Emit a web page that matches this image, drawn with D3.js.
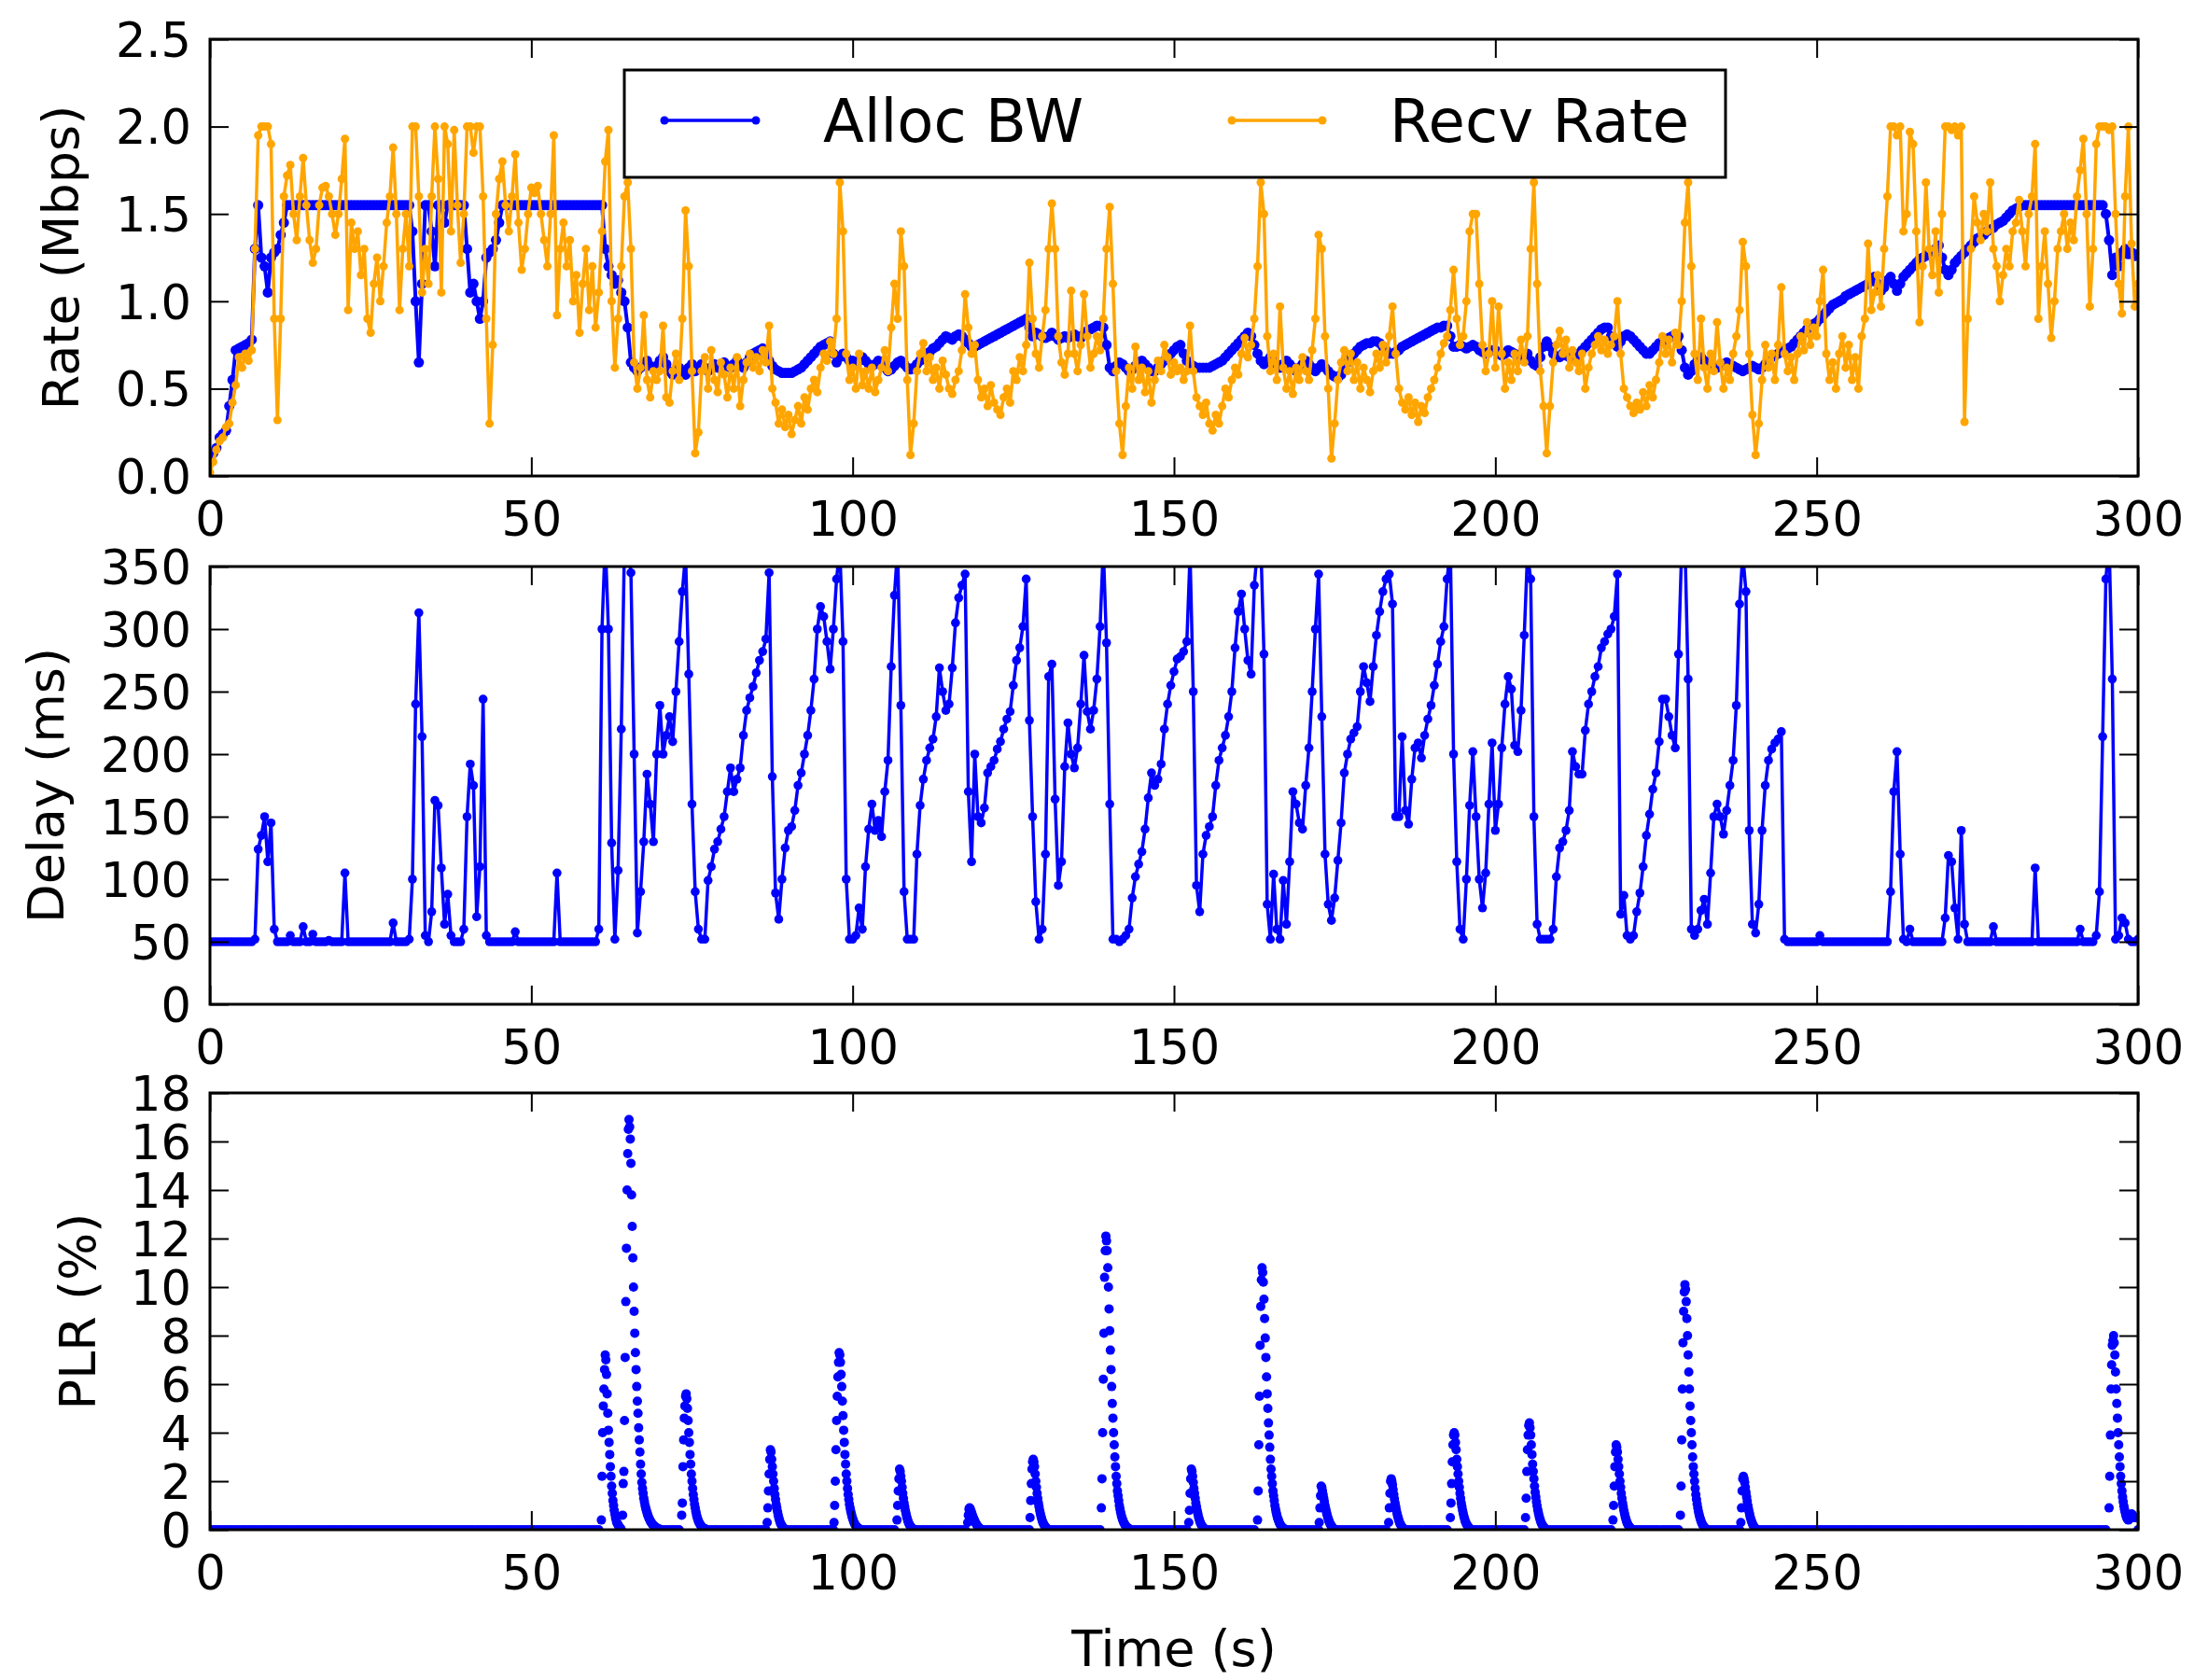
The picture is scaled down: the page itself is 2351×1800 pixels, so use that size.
<!DOCTYPE html>
<html>
<head>
<meta charset="utf-8">
<script src="https://cdn.jsdelivr.net/npm/d3@7"></script>
<style>
  html, body { margin: 0; padding: 0; background: #fff; }
  svg text { font-family: "DejaVu Sans", "Liberation Sans", sans-serif; fill: #000; }
</style>
</head>
<body>
<svg id="chart" width="2351" height="1800"></svg>
<script>
// Sample clock for the rate and delay traces (seconds between samples)
const STEP = 0.5;
// Loss-burst samples are logged more finely
const PLR_STEP = 0.1;

// Allocated bandwidth (Mbps), one value every 0.5 s from 0 to 300 s
const allocBw = [
  0.12,0.13,0.16,0.22,0.24,0.26,0.4,0.55,0.72,0.73,0.74,0.75,0.76,0.78,1.3,1.55,1.25,1.2,1.05,1.25,
  1.28,1.3,1.38,1.45,1.55,1.55,1.55,1.55,1.55,1.55,1.55,1.55,1.55,1.55,1.55,1.55,1.55,1.55,1.55,1.55,
  1.55,1.55,1.55,1.55,1.55,1.55,1.55,1.55,1.55,1.55,1.55,1.55,1.55,1.55,1.55,1.55,1.55,1.55,1.55,1.55,
  1.55,1.55,1.55,1.4,1.0,0.65,1.1,1.55,1.55,1.4,1.2,1.55,1.55,1.45,1.55,1.55,1.55,1.55,1.55,1.55,
  1.3,1.05,1.1,1.0,0.9,1.0,1.25,1.28,1.3,1.35,1.45,1.55,1.55,1.55,1.55,1.55,1.55,1.55,1.55,1.55,
  1.55,1.55,1.55,1.55,1.55,1.55,1.55,1.55,1.55,1.55,1.55,1.55,1.55,1.55,1.55,1.55,1.55,1.55,1.55,1.55,
  1.55,1.55,1.55,1.3,1.2,1.15,1.1,1.12,1.05,1.0,0.85,0.65,0.62,0.6,0.62,0.64,0.66,0.63,0.62,0.63,
  0.66,0.68,0.64,0.6,0.58,0.6,0.62,0.6,0.58,0.62,0.64,0.6,0.62,0.64,0.62,0.6,0.62,0.64,0.62,0.63,
  0.65,0.63,0.62,0.64,0.66,0.64,0.62,0.65,0.68,0.7,0.71,0.72,0.73,0.7,0.66,0.63,0.61,0.6,0.59,0.59,
  0.59,0.59,0.6,0.61,0.62,0.64,0.66,0.68,0.7,0.72,0.74,0.75,0.76,0.77,0.7,0.65,0.68,0.7,0.68,0.66,
  0.66,0.64,0.66,0.68,0.66,0.64,0.63,0.64,0.66,0.64,0.62,0.6,0.61,0.63,0.65,0.66,0.64,0.62,0.61,0.62,
  0.64,0.66,0.67,0.69,0.71,0.73,0.74,0.76,0.78,0.8,0.79,0.78,0.8,0.81,0.8,0.78,0.76,0.74,0.74,0.75,
  0.76,0.77,0.78,0.79,0.8,0.81,0.82,0.83,0.84,0.85,0.86,0.87,0.88,0.89,0.9,0.85,0.8,0.82,0.81,0.8,
  0.79,0.8,0.82,0.8,0.78,0.79,0.8,0.79,0.8,0.81,0.8,0.79,0.81,0.83,0.84,0.85,0.86,0.86,0.85,0.75,
  0.62,0.6,0.63,0.65,0.64,0.62,0.6,0.61,0.63,0.65,0.66,0.64,0.62,0.6,0.6,0.62,0.64,0.66,0.68,0.7,
  0.72,0.74,0.75,0.7,0.66,0.64,0.63,0.62,0.62,0.62,0.62,0.62,0.63,0.64,0.65,0.66,0.68,0.7,0.72,0.74,
  0.76,0.78,0.8,0.82,0.8,0.75,0.7,0.66,0.64,0.66,0.68,0.66,0.64,0.62,0.64,0.66,0.64,0.62,0.6,0.62,
  0.64,0.66,0.64,0.62,0.6,0.62,0.64,0.62,0.6,0.58,0.57,0.56,0.58,0.62,0.65,0.68,0.7,0.72,0.74,0.75,
  0.76,0.76,0.77,0.77,0.76,0.74,0.72,0.7,0.7,0.71,0.72,0.74,0.75,0.76,0.77,0.78,0.79,0.8,0.81,0.82,
  0.83,0.84,0.85,0.85,0.86,0.86,0.8,0.74,0.74,0.75,0.74,0.73,0.74,0.75,0.74,0.72,0.71,0.7,0.71,0.72,
  0.72,0.7,0.69,0.7,0.72,0.71,0.7,0.68,0.67,0.68,0.7,0.66,0.64,0.63,0.68,0.74,0.77,0.74,0.7,0.68,
  0.68,0.7,0.69,0.68,0.67,0.68,0.7,0.72,0.74,0.76,0.78,0.8,0.82,0.84,0.85,0.85,0.8,0.76,0.74,0.77,
  0.8,0.81,0.8,0.78,0.76,0.74,0.72,0.7,0.7,0.72,0.74,0.76,0.77,0.78,0.79,0.8,0.81,0.8,0.72,0.62,
  0.58,0.6,0.64,0.67,0.68,0.66,0.64,0.63,0.62,0.62,0.63,0.64,0.65,0.64,0.63,0.62,0.61,0.6,0.61,0.62,
  0.63,0.62,0.61,0.62,0.64,0.66,0.68,0.69,0.7,0.71,0.72,0.73,0.74,0.76,0.78,0.8,0.82,0.84,0.86,0.87,
  0.88,0.9,0.92,0.94,0.96,0.98,0.99,1.0,1.01,1.03,1.04,1.05,1.06,1.07,1.08,1.09,1.1,1.12,1.14,1.1,
  1.06,1.08,1.12,1.14,1.1,1.06,1.1,1.14,1.16,1.18,1.2,1.22,1.24,1.25,1.26,1.28,1.29,1.3,1.32,1.25,
  1.18,1.15,1.18,1.22,1.24,1.26,1.28,1.3,1.32,1.34,1.36,1.37,1.38,1.4,1.41,1.42,1.44,1.45,1.46,1.48,
  1.5,1.52,1.53,1.54,1.55,1.55,1.55,1.55,1.55,1.55,1.55,1.55,1.55,1.55,1.55,1.55,1.55,1.55,1.55,1.55,
  1.55,1.55,1.55,1.55,1.55,1.55,1.55,1.55,1.55,1.55,1.5,1.35,1.15,1.25,1.2,1.28,1.3,1.27,1.28,1.26,
  1.27
];

// Measured receive rate (Mbps), same 0.5 s clock
const recvRate = [
  0.02,0.08,0.15,0.2,0.22,0.28,0.3,0.42,0.52,0.68,0.62,0.7,0.66,0.72,1.3,1.95,2.0,2.0,2.0,1.9,
  0.9,0.32,0.9,1.6,1.72,1.78,1.5,1.35,1.6,1.82,1.55,1.35,1.22,1.3,1.55,1.65,1.66,1.6,1.5,1.38,
  1.5,1.7,1.93,0.95,1.45,1.3,1.4,1.15,1.3,0.9,0.82,1.1,1.25,1.0,1.2,1.45,1.6,1.88,1.5,0.95,
  1.3,1.5,1.2,2.0,2.0,1.6,1.05,1.3,1.1,1.6,2.0,1.7,1.05,2.0,1.9,1.4,1.98,1.55,1.22,1.5,
  2.0,2.0,1.85,2.0,2.0,1.6,0.9,0.3,0.75,1.5,1.7,1.8,1.55,1.4,1.6,1.84,1.45,1.18,1.3,1.5,
  1.65,1.62,1.66,1.5,1.35,1.2,1.5,1.95,0.92,1.3,1.45,1.2,1.35,1.0,1.15,0.82,1.1,1.3,0.95,1.2,
  0.85,1.05,1.4,1.8,1.98,1.0,0.62,0.9,1.2,1.6,1.68,1.3,0.65,0.5,0.62,0.92,0.55,0.45,0.6,0.55,
  0.6,0.86,0.45,0.42,0.6,0.7,0.55,0.9,1.52,1.2,0.6,0.13,0.25,0.6,0.68,0.5,0.72,0.55,0.48,0.65,
  0.58,0.45,0.62,0.5,0.68,0.4,0.55,0.65,0.7,0.62,0.68,0.6,0.72,0.65,0.86,0.5,0.42,0.3,0.38,0.28,
  0.35,0.24,0.32,0.4,0.3,0.45,0.38,0.5,0.55,0.48,0.62,0.7,0.66,0.77,0.7,0.9,1.68,1.4,0.7,0.55,
  0.62,0.5,0.7,0.52,0.6,0.5,0.62,0.48,0.55,0.62,0.72,0.6,0.85,1.1,0.9,1.4,1.2,0.55,0.12,0.3,
  0.6,0.7,0.76,0.6,0.68,0.55,0.62,0.5,0.66,0.58,0.5,0.47,0.55,0.6,0.72,1.04,0.85,0.7,0.75,0.55,
  0.45,0.5,0.4,0.52,0.42,0.38,0.35,0.45,0.5,0.42,0.6,0.55,0.68,0.6,0.75,1.22,0.9,0.7,0.62,0.8,
  0.95,1.3,1.56,1.3,0.8,0.65,0.58,0.7,1.06,0.7,0.6,0.75,1.04,0.8,0.62,0.7,0.8,0.72,0.9,1.3,
  1.54,1.1,0.6,0.3,0.12,0.4,0.62,0.5,0.74,0.55,0.62,0.48,0.6,0.42,0.55,0.66,0.6,0.75,0.68,0.58,
  0.65,0.6,0.62,0.55,0.6,0.86,0.6,0.45,0.4,0.35,0.42,0.3,0.26,0.35,0.3,0.4,0.5,0.45,0.55,0.62,
  0.58,0.7,0.79,0.68,0.75,0.9,1.2,1.68,1.5,0.8,0.6,0.7,0.55,0.97,0.62,0.5,0.6,0.47,0.62,0.55,
  0.68,0.6,0.55,0.72,0.9,1.38,1.3,0.8,0.5,0.1,0.3,0.55,0.65,0.72,0.6,0.7,0.55,0.65,0.5,0.62,
  0.55,0.48,0.6,0.7,0.62,0.75,0.65,0.8,0.97,0.7,0.5,0.42,0.38,0.45,0.35,0.42,0.31,0.4,0.36,0.45,
  0.5,0.55,0.62,0.7,0.76,0.8,0.95,1.18,0.9,0.75,0.8,1.0,1.4,1.5,1.5,1.1,0.75,0.6,0.7,1.0,
  0.62,0.97,0.7,0.5,0.65,0.55,0.7,0.6,0.78,0.65,0.8,1.3,1.68,1.1,0.6,0.4,0.13,0.4,0.65,0.75,
  0.83,0.7,0.78,0.62,0.72,0.65,0.6,0.7,0.5,0.62,0.7,0.75,0.8,0.72,0.78,0.7,0.75,0.8,1.0,0.7,
  0.5,0.45,0.4,0.36,0.42,0.38,0.48,0.4,0.52,0.45,0.55,0.65,0.8,0.7,0.78,0.65,0.82,0.75,1.0,1.45,
  1.68,1.2,0.7,0.55,0.9,0.62,0.5,0.7,0.6,0.88,0.65,0.5,0.62,0.55,0.7,0.8,0.95,1.34,1.2,0.7,
  0.35,0.12,0.3,0.55,0.75,0.62,0.7,0.55,0.75,1.08,0.7,0.6,0.68,0.55,0.7,0.8,0.72,0.88,0.75,0.85,
  0.8,1.0,1.18,0.7,0.55,0.65,0.5,0.7,0.8,0.62,0.75,0.55,0.68,0.5,0.8,0.9,1.33,0.95,1.05,1.15,
  0.97,1.3,1.6,2.0,2.0,1.95,2.0,1.4,1.5,1.97,1.9,1.4,0.88,1.2,1.68,1.3,1.15,1.4,1.05,1.5,
  2.0,2.0,1.98,2.0,1.95,2.0,0.31,0.9,1.3,1.6,1.45,1.35,1.5,1.4,1.68,1.3,1.2,1.0,1.15,1.3,
  1.2,1.4,1.45,1.58,1.4,1.2,1.5,1.6,1.9,0.9,1.2,1.4,1.1,0.79,1.0,1.3,1.4,1.5,1.3,1.45,
  1.35,1.6,1.75,1.93,1.5,0.97,1.3,1.9,2.0,2.0,2.0,1.98,2.0,1.5,1.1,0.93,1.6,2.0,1.33,0.97,
  1.1
];

// One-way delay (ms), same 0.5 s clock; peaks above 350 run off the top of the panel
const delayMs = [
  50,50,50,50,50,50,50,50,50,50,50,50,50,50,52,124,135,150,114,145,
  60,50,50,50,50,55,50,50,50,62,50,50,56,50,50,50,50,51,50,50,
  50,50,105,50,50,50,50,50,50,50,50,50,50,50,50,50,50,65,50,50,
  50,50,52,100,240,313,214,55,50,74,163,159,109,64,88,55,50,50,50,60,
  150,192,175,70,110,244,55,50,50,50,50,50,50,50,50,58,50,50,50,50,
  50,50,50,50,50,50,50,50,105,50,50,50,50,50,50,50,50,50,50,50,
  50,60,300,370,300,129,52,107,220,370,370,345,200,57,90,130,184,160,130,200,
  239,200,215,230,210,250,290,330,360,264,160,90,60,52,52,99,110,124,130,140,
  150,170,189,170,180,189,215,235,245,254,265,275,282,292,345,182,89,68,100,125,
  139,142,155,175,185,200,215,235,260,300,318,310,290,268,300,340,365,290,100,52,
  52,55,77,60,110,140,160,139,147,134,170,195,270,327,365,239,90,52,52,52,
  120,159,180,195,205,212,230,269,250,235,240,269,305,325,335,344,170,114,200,150,
  145,157,185,190,195,204,210,220,228,234,255,275,285,302,340,227,150,82,52,60,
  120,262,272,164,95,114,190,225,200,189,205,240,279,234,220,235,260,302,365,289,
  160,52,52,50,52,55,60,85,102,112,122,140,165,185,175,180,192,220,240,255,
  266,276,278,282,290,360,250,95,74,120,135,142,150,175,195,205,215,230,250,285,
  314,328,300,275,264,335,365,370,280,80,52,104,60,52,99,64,114,170,160,145,
  140,175,205,250,300,344,230,120,80,67,85,115,145,185,200,212,217,222,250,270,
  257,242,270,295,314,330,340,344,320,150,150,214,155,144,180,205,209,197,215,228,
  239,255,272,290,302,340,365,200,114,60,52,100,159,202,150,100,77,105,160,209,
  139,160,205,240,262,252,207,202,235,295,360,340,150,64,52,52,52,52,60,102,
  125,130,139,155,202,190,184,184,219,240,250,262,270,285,290,296,300,310,344,72,
  87,55,52,55,74,89,110,135,152,172,185,210,244,244,230,215,205,280,365,370,
  260,60,55,60,75,84,64,105,150,160,150,136,155,175,195,239,320,360,330,139,
  64,57,80,139,175,195,204,209,212,218,52,50,50,50,50,50,50,50,50,50,
  50,55,50,50,50,50,50,50,50,50,50,50,50,50,50,50,50,50,50,50,
  50,50,50,90,170,202,120,52,50,60,50,50,50,50,50,50,50,50,50,50,
  69,119,114,77,52,139,64,50,50,50,50,50,50,50,50,62,50,50,50,50,
  50,50,50,50,50,50,50,50,109,50,50,50,50,50,50,50,50,50,50,50,
  50,50,60,50,50,50,50,55,90,214,340,370,260,52,55,69,65,52,50,50,
  52
];

// Packet loss bursts: [start time (s), loss ratio (%) every 0.1 s]; no loss outside them
const plrBursts = [
  [60.9, [0.4,2.2,4.0,5.1,5.8,6.6,7.2,7.0,6.4,5.6,4.8,4.1,3.6,3.1,2.6,2.2,1.8,1.5,1.2,1.0,0.8,0.65,0.5,0.4,0.3,0.25,0.2,0.15,0.1,0.08,0.06]],
  [64.2, [0.6,1.9,2.4,4.5,7.1,9.4,11.6,14.0,15.5,16.5,16.9,16.6,16.1,15.1,13.8,12.5,11.2,10.0,9.0,8.1,7.3,6.6,5.9,5.3,4.8,4.2,3.7,3.2,2.7,2.3,1.95,1.7,1.5,1.3,1.15,1.0,0.9,0.8,0.7,0.62,0.55,0.48,0.42,0.37,0.32,0.28,0.24,0.21,0.18,0.15,0.13,0.11,0.09,0.07,0.06,0.05,0.04,0.03]],
  [73.4, [0.6,1.1,2.6,3.7,4.6,5.1,5.5,5.6,5.4,5.0,4.5,4.0,3.6,3.1,2.7,2.3,2.0,1.7,1.45,1.25,1.05,0.9,0.75,0.62,0.52,0.43,0.36,0.3,0.25,0.2,0.16,0.13,0.1,0.08,0.06,0.05,0.04,0.03]],
  [86.7, [0.3,0.9,1.6,2.3,2.9,3.3,3.2,2.9,2.6,2.3,2.0,1.7,1.45,1.25,1.05,0.9,0.75,0.62,0.5,0.4,0.32,0.25,0.2,0.15,0.11,0.08,0.06,0.04]],
  [97.1, [0.3,1.0,2.0,3.3,4.5,5.5,6.3,6.9,7.3,7.2,6.9,6.4,5.9,5.3,4.7,4.1,3.6,3.1,2.7,2.3,2.0,1.7,1.45,1.25,1.05,0.9,0.77,0.65,0.55,0.46,0.38,0.31,0.25,0.2,0.16,0.13,0.1,0.08,0.06,0.04,0.03]],
  [106.9, [0.4,1.0,1.6,2.1,2.5,2.4,2.2,2.0,1.75,1.5,1.3,1.1,0.95,0.8,0.67,0.55,0.45,0.36,0.29,0.23,0.18,0.14,0.1,0.07,0.05,0.03]],
  [117.9, [0.3,0.6,0.85,0.9,0.85,0.78,0.7,0.62,0.55,0.48,0.42,0.36,0.3,0.25,0.2,0.16,0.12,0.09,0.07,0.05,0.03]],
  [127.6, [0.5,1.2,1.9,2.5,2.8,2.9,2.8,2.6,2.3,2.0,1.75,1.5,1.3,1.1,0.95,0.8,0.67,0.56,0.46,0.37,0.3,0.24,0.19,0.15,0.11,0.08,0.06,0.04]],
  [138.7, [0.9,2.1,4.0,6.2,8.1,10.4,11.5,12.1,11.9,11.5,10.8,10.0,9.1,8.2,7.4,6.6,5.9,5.2,4.6,4.0,3.5,3.0,2.6,2.2,1.9,1.6,1.4,1.2,1.0,0.85,0.72,0.6,0.5,0.42,0.35,0.29,0.24,0.19,0.15,0.12,0.09,0.07,0.05,0.04,0.03]],
  [152.3, [0.3,0.8,1.5,2.1,2.5,2.4,2.2,1.95,1.7,1.5,1.3,1.1,0.95,0.8,0.67,0.55,0.45,0.36,0.29,0.23,0.18,0.13,0.1,0.07,0.05,0.03]],
  [163.0, [0.4,1.6,3.5,5.5,7.6,9.2,10.3,10.8,10.6,10.2,9.5,8.7,7.9,7.1,6.3,5.6,5.0,4.4,3.9,3.4,2.9,2.5,2.2,1.9,1.6,1.4,1.2,1.0,0.85,0.72,0.6,0.5,0.42,0.35,0.28,0.23,0.18,0.14,0.11,0.08,0.06,0.04,0.03]],
  [172.6, [0.3,0.9,1.4,1.8,1.75,1.6,1.45,1.3,1.15,1.0,0.87,0.75,0.64,0.54,0.45,0.37,0.3,0.24,0.19,0.15,0.11,0.08,0.06,0.04]],
  [183.4, [0.3,0.9,1.5,2.0,2.1,2.0,1.85,1.65,1.45,1.27,1.1,0.95,0.81,0.68,0.57,0.47,0.38,0.3,0.24,0.19,0.14,0.1,0.07,0.05,0.03]],
  [193.0, [0.5,1.1,1.9,2.8,3.5,3.9,4.0,3.9,3.6,3.3,2.9,2.6,2.3,2.0,1.75,1.5,1.3,1.1,0.95,0.8,0.67,0.56,0.46,0.37,0.3,0.24,0.19,0.15,0.11,0.08,0.06,0.04]],
  [204.7, [0.5,1.3,2.4,3.3,3.9,4.3,4.4,4.2,3.9,3.5,3.1,2.7,2.4,2.1,1.8,1.55,1.35,1.15,0.98,0.83,0.7,0.58,0.48,0.39,0.31,0.25,0.2,0.15,0.11,0.08,0.06,0.04]],
  [218.3, [0.4,1.0,1.8,2.6,3.2,3.5,3.4,3.2,2.9,2.6,2.3,2.0,1.75,1.5,1.3,1.1,0.95,0.8,0.67,0.55,0.45,0.36,0.29,0.23,0.18,0.13,0.1,0.07,0.05,0.03]],
  [228.8, [0.6,1.8,3.7,5.8,7.7,9.0,9.8,10.1,9.9,9.4,8.7,8.0,7.2,6.5,5.8,5.1,4.5,4.0,3.5,3.0,2.6,2.3,2.0,1.7,1.45,1.25,1.07,0.9,0.76,0.64,0.53,0.44,0.36,0.29,0.23,0.18,0.14,0.1,0.07,0.05,0.03]],
  [238.2, [0.3,0.9,1.6,2.1,2.2,2.1,1.95,1.75,1.55,1.35,1.17,1.0,0.85,0.72,0.6,0.49,0.4,0.32,0.25,0.19,0.14,0.1,0.07,0.05,0.03]],
  [295.5, [0.9,2.2,3.9,5.8,6.8,7.6,7.8,8.0,7.7,7.2,6.5,5.8,5.2,4.6,4.0,3.5,3.0,2.6,2.2,1.9,1.6,1.35,1.15,0.98,0.84,0.72,0.62,0.53,0.46,0.42,0.4,0.42,0.48,0.55,0.62,0.65,0.62,0.58,0.55,0.52,0.5,0.5]]
];

// Axis ticks
const timeTicks = [0, 50, 100, 150, 200, 250, 300];
const rateTicks = [0, 0.5, 1.0, 1.5, 2.0, 2.5];
const delayTicks = [0, 50, 100, 150, 200, 250, 300, 350];
const plrTicks = [0, 2, 4, 6, 8, 10, 12, 14, 16, 18];

const series = [
  { name: "Alloc BW", color: "#0000ff" },
  { name: "Recv Rate", color: "#ffa500" }
];

// ---------- layout ----------
const LEFT = 225, RIGHT = 2291;
const TICK_LEN = 20;
const TICK_FONT = 51, LABEL_FONT = 54, LEGEND_FONT = 64;
const BLUE = "#0000ff";

const svg = d3.select("#chart");
const defs = svg.append("defs");

const x = d3.scaleLinear().domain([0, 300]).range([LEFT, RIGHT]);
const time = allocBw.map((_, i) => i * STEP);

function makePanel(id, top, bottom, yMax, ticks, fmt, title, titleX) {
  const y = d3.scaleLinear().domain([0, yMax]).range([bottom, top]);
  defs.append("clipPath").attr("id", "clip-" + id)
    .append("rect").attr("x", LEFT).attr("y", top)
    .attr("width", RIGHT - LEFT).attr("height", bottom - top);
  const plot = svg.append("g").attr("clip-path", `url(#clip-${id})`);
  const axes = svg.append("g");
  return { y, top, bottom, plot, axes, ticks, fmt, title, titleX };
}

function finishPanel(p) {
  const style = g => {
    g.select(".domain").remove();
    g.attr("font-family", "DejaVu Sans, sans-serif").attr("font-size", TICK_FONT);
    g.selectAll(".tick line").attr("stroke", "#000").attr("stroke-width", 2);
    g.selectAll(".tick text").attr("fill", "#000");
  };
  p.axes.append("g").attr("transform", `translate(${LEFT},0)`)
    .call(d3.axisLeft(p.y).tickValues(p.ticks).tickFormat(p.fmt)
      .tickSize(-TICK_LEN).tickSizeOuter(0).tickPadding(20))
    .call(style)
    .call(g => g.selectAll(".tick text").attr("dy", "0.36em"));
  p.axes.append("g").attr("transform", `translate(${RIGHT},0)`)
    .call(d3.axisRight(p.y).tickValues(p.ticks).tickFormat("")
      .tickSize(-TICK_LEN).tickSizeOuter(0))
    .call(style);
  p.axes.append("g").attr("transform", `translate(0,${p.bottom})`)
    .call(d3.axisBottom(x).tickValues(timeTicks).tickFormat(d3.format("d"))
      .tickSize(-TICK_LEN).tickSizeOuter(0).tickPadding(28))
    .call(style);
  p.axes.append("g").attr("transform", `translate(0,${p.top})`)
    .call(d3.axisTop(x).tickValues(timeTicks).tickFormat("")
      .tickSize(-TICK_LEN).tickSizeOuter(0))
    .call(style);
  p.axes.append("rect")
    .attr("x", LEFT).attr("y", p.top)
    .attr("width", RIGHT - LEFT).attr("height", p.bottom - p.top)
    .attr("fill", "none").attr("stroke", "#000").attr("stroke-width", 3);
  const cy = (p.top + p.bottom) / 2;
  p.axes.append("text")
    .attr("transform", `translate(${p.titleX},${cy}) rotate(-90)`)
    .attr("text-anchor", "middle")
    .attr("font-size", LABEL_FONT)
    .text(p.title);
}

// line with a dot at every sample
function dottedLine(p, pts, color, width, r) {
  const line = d3.line().x(d => x(d[0])).y(d => p.y(d[1]));
  p.plot.append("path").datum(pts)
    .attr("d", line).attr("fill", "none")
    .attr("stroke", color).attr("stroke-width", width)
    .attr("stroke-linejoin", "round");
  p.plot.append("g").selectAll("circle").data(pts).join("circle")
    .attr("cx", d => x(d[0])).attr("cy", d => p.y(d[1]))
    .attr("r", r).attr("fill", color);
}

// ---------- panel 1: rates ----------
const pRate = makePanel("rate", 42, 510, 2.5, rateTicks, d3.format(".1f"), "Rate (Mbps)", 84);
dottedLine(pRate, time.map((t, i) => [t, allocBw[i]]), series[0].color, 4, 5.5);
dottedLine(pRate, time.map((t, i) => [t, recvRate[i]]), series[1].color, 3.5, 4.5);
finishPanel(pRate);

// legend
const lg = pRate.axes.append("g");
lg.append("rect").attr("x", 669).attr("y", 75).attr("width", 1180).attr("height", 115)
  .attr("fill", "#fff").attr("stroke", "#000").attr("stroke-width", 3);
const legendItems = [
  { s: series[0], x0: 712, x1: 810, tx: 882 },
  { s: series[1], x0: 1320, x1: 1417, tx: 1489 }
];
legendItems.forEach(it => {
  lg.append("line").attr("x1", it.x0).attr("x2", it.x1).attr("y1", 129).attr("y2", 129)
    .attr("stroke", it.s.color).attr("stroke-width", 3.5);
  [it.x0, it.x1].forEach(cx => lg.append("circle").attr("cx", cx).attr("cy", 129)
    .attr("r", 4.5).attr("fill", it.s.color));
  lg.append("text").attr("x", it.tx).attr("y", 152).attr("font-size", LEGEND_FONT)
    .text(it.s.name);
});

// ---------- panel 2: delay ----------
const pDelay = makePanel("delay", 607, 1076, 350, delayTicks, d3.format("d"), "Delay (ms)", 68);
dottedLine(pDelay, time.map((t, i) => [t, delayMs[i]]), BLUE, 3.5, 4.8);
finishPanel(pDelay);

// ---------- panel 3: packet loss ratio ----------
const pPlr = makePanel("plr", 1171, 1639, 18, plrTicks, d3.format("d"), "PLR (%)", 102);
const spans = plrBursts.map(([t0, v]) => [t0, t0 + (v.length - 1) * PLR_STEP]);
const plrPts = [];
time.forEach(t => {
  if (!spans.some(([a, b]) => t >= a - 0.05 && t <= b + 0.05)) plrPts.push([t, 0]);
});
plrBursts.forEach(([t0, vals]) => vals.forEach((v, i) => plrPts.push([t0 + i * PLR_STEP, v])));
pPlr.plot.append("g").selectAll("circle").data(plrPts).join("circle")
  .attr("cx", d => x(d[0])).attr("cy", d => pPlr.y(d[1]))
  .attr("r", 5).attr("fill", BLUE);
finishPanel(pPlr);

svg.append("text")
  .attr("x", (LEFT + RIGHT) / 2).attr("y", 1785)
  .attr("text-anchor", "middle").attr("font-size", LABEL_FONT)
  .text("Time (s)");
</script>
</body>
</html>
